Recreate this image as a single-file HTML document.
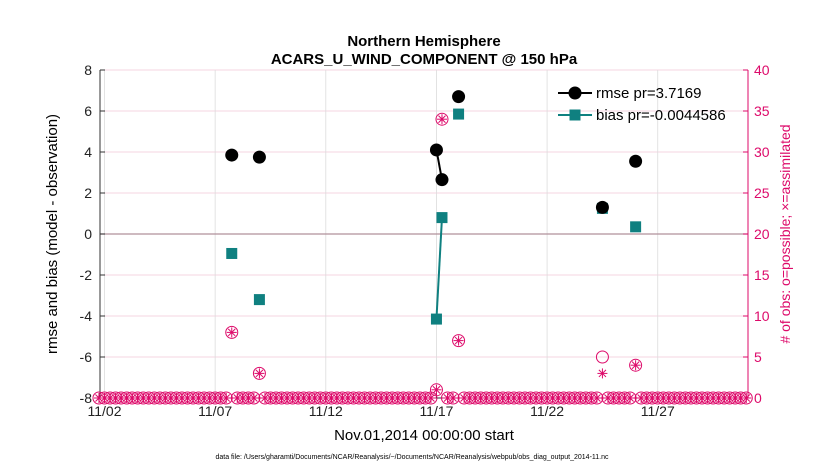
<!DOCTYPE html>
<html><head><meta charset="utf-8"><style>
body{margin:0;background:#fff;font-family:"Liberation Sans",sans-serif}
svg text{font-family:"Liberation Sans",sans-serif}
</style></head><body>
<svg id="c" width="830" height="470" xmlns="http://www.w3.org/2000/svg"></svg>
<script>
// 6-hourly bins starting Nov 1.75
const binStart = 1.75, binStep = 0.25;
const rmse = {24:3.85, 29:3.75, 61:4.1, 62:2.65, 65:6.7, 91:1.3, 97:3.55};
const bias = {24:-0.95, 29:-3.2, 61:-4.15, 62:0.8, 65:5.85, 91:1.25, 97:0.35};
const possible = [0,0,0,0,0,0,0,0,0,0,0,0,0,0,0,0,0,0,0,0,0,0,0,0,8,0,0,0,0,3,0,0,0,0,0,0,0,0,0,0,0,0,0,0,0,0,0,0,0,0,0,0,0,0,0,0,0,0,0,0,0,1,34,0,0,7,0,0,0,0,0,0,0,0,0,0,0,0,0,0,0,0,0,0,0,0,0,0,0,0,0,5,0,0,0,0,0,4,0,0,0,0,0,0,0,0,0,0,0,0,0,0,0,0,0,0,0,0];
const assimilated = [0,0,0,0,0,0,0,0,0,0,0,0,0,0,0,0,0,0,0,0,0,0,0,0,8,0,0,0,0,3,0,0,0,0,0,0,0,0,0,0,0,0,0,0,0,0,0,0,0,0,0,0,0,0,0,0,0,0,0,0,0,1,34,0,0,7,0,0,0,0,0,0,0,0,0,0,0,0,0,0,0,0,0,0,0,0,0,0,0,0,0,3,0,0,0,0,0,4,0,0,0,0,0,0,0,0,0,0,0,0,0,0,0,0,0,0,0,0];
const xTickDays = [2,7,12,17,22,27];
const xTickLabels = ["11/02","11/07","11/12","11/17","11/22","11/27"];
const yLeftTicks = [-8,-6,-4,-2,0,2,4,6,8];
const yRightTicks = [0,5,10,15,20,25,30,35,40];

const L=100,R=748,T=70,B=398;
const X=d=>104.5+(d-2)*22.13;
const YL=v=>B-(v+8)/16*(B-T);
const YR=v=>B-v/40*(B-T);
const binDay=i=>binStart+i*binStep;
const svg=document.getElementById('c');
const NS="http://www.w3.org/2000/svg";
function mk(tag,attrs,parent){const e=document.createElementNS(NS,tag);for(const k in attrs)e.setAttribute(k,attrs[k]);(parent||svg).appendChild(e);return e;}
const PINK="#dd0a6a", TEAL="#0f8080";

const grid=mk('g',{});


yLeftTicks.forEach(v=>mk('line',{x1:L,x2:R,y1:YL(v),y2:YL(v),stroke:'#f3c6d8','stroke-width':0.8},grid));
xTickDays.forEach(d=>mk('line',{x1:X(d),x2:X(d),y1:T,y2:B,stroke:'#dcdcdc','stroke-width':0.8},grid));
mk('line',{x1:L,x2:R,y1:YL(0),y2:YL(0),stroke:'#b0909a','stroke-width':1.2},grid);

const ax=mk('g',{});


mk('line',{x1:L,x2:R,y1:B,y2:B,stroke:'#333','stroke-width':1},ax);
mk('line',{x1:L,x2:L,y1:T,y2:B,stroke:'#333','stroke-width':1},ax);
mk('line',{x1:R,x2:R,y1:T,y2:B,stroke:PINK,'stroke-width':1},ax);
yLeftTicks.forEach(v=>{mk('line',{x1:L,x2:L+5,y1:YL(v),y2:YL(v),stroke:'#333'},ax);
 const t=mk('text',{x:L-8,y:YL(v)+5,'text-anchor':'end','font-size':14,fill:'#222'},ax);t.textContent=v;
 });
yRightTicks.forEach(v=>{mk('line',{x1:R-5,x2:R,y1:YR(v),y2:YR(v),stroke:PINK},ax);
 const t=mk('text',{x:R+6,y:YR(v)+5,'font-size':14,fill:PINK},ax);t.textContent=v;
 });
xTickDays.forEach((d,i)=>{mk('line',{x1:X(d),x2:X(d),y1:B,y2:B-5,stroke:'#333'},ax);
 const t=mk('text',{x:X(d),y:B+18,'text-anchor':'middle','font-size':14,fill:'#222'},ax);t.textContent=xTickLabels[i];
 });

const obs=mk('g',{});


possible.forEach((v,i)=>{const c=mk('circle',{cx:X(binDay(i)),cy:YR(v),r:6,fill:'none',stroke:PINK,'stroke-width':1},obs);
 });
assimilated.forEach((v,i)=>{const cx=X(binDay(i)),cy=YR(v),r=5;
 const g=mk('g',{stroke:PINK,'stroke-width':1},obs);
 
 [0,45,90,135].forEach(a=>{const dx=r*Math.cos(a*Math.PI/180),dy=r*Math.sin(a*Math.PI/180);mk('line',{x1:cx-dx,y1:cy-dy,x2:cx+dx,y2:cy+dy},g);});});

function series(obj,color,name,marker){
 const g=mk('g',{});
 
 const idx=Object.keys(obj).map(Number).sort((a,b)=>a-b);
 idx.forEach(i=>{if(obj[i+1]!==undefined)mk('line',{x1:X(binDay(i)),y1:YL(obj[i]),x2:X(binDay(i+1)),y2:YL(obj[i+1]),stroke:color,'stroke-width':2},g);});
 idx.forEach(i=>{const x=X(binDay(i)),y=YL(obj[i]);let m;
  if(marker==='circle')m=mk('circle',{cx:x,cy:y,r:6.5,fill:color},g);
  else m=mk('rect',{x:x-5.5,y:y-5.5,width:11,height:11,fill:color},g);
  });
}
series(bias,TEAL,'bias','square');
series(rmse,'#000','rmse','circle');
</script>
<svg width="830" height="470" style="position:absolute;left:0;top:0" xmlns="http://www.w3.org/2000/svg">
<g>
<line x1="558" y1="93" x2="592" y2="93" stroke="#000" stroke-width="2"/><circle cx="575" cy="93" r="6.5" fill="#000"/>
<text x="596" y="98" font-size="15" font-family="Liberation Sans">rmse pr=3.7169</text>
<line x1="558" y1="115" x2="592" y2="115" stroke="#0f8080" stroke-width="2"/><rect x="569.5" y="109.5" width="11" height="11" fill="#0f8080"/>
<text x="596" y="120" font-size="15" font-family="Liberation Sans">bias pr=-0.0044586</text>
</g>
<text x="424" y="46" text-anchor="middle" font-size="15" font-weight="bold" font-family="Liberation Sans">Northern Hemisphere</text>
<text x="424" y="64" text-anchor="middle" font-size="15" font-weight="bold" font-family="Liberation Sans">ACARS_U_WIND_COMPONENT @ 150 hPa</text>
<text transform="translate(57,234) rotate(-90)" text-anchor="middle" font-size="15" font-family="Liberation Sans">rmse and bias (model - observation)</text>
<text transform="translate(790,234) rotate(-90)" text-anchor="middle" font-size="14" fill="#dd0a6a" font-family="Liberation Sans"># of obs: o=possible; ×=assimilated</text>
<text x="424" y="440" text-anchor="middle" font-size="15" font-family="Liberation Sans">Nov.01,2014 00:00:00 start</text>
<text x="412" y="459" text-anchor="middle" font-size="7" font-family="Liberation Sans">data file: /Users/gharamti/Documents/NCAR/Reanalysis/~/Documents/NCAR/Reanalysis/webpub/obs_diag_output_2014-11.nc</text>
</svg>
</body></html>
